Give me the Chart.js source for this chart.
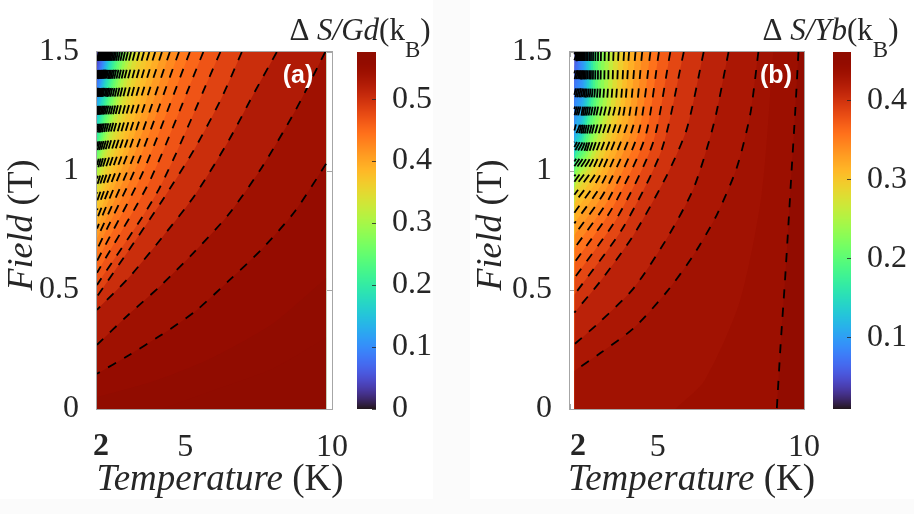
<!DOCTYPE html>
<html>
<head>
<meta charset="utf-8">
<script src="https://cdn.jsdelivr.net/npm/chart.js@4.4.1/dist/chart.umd.min.js"></script>
<style>
  html, body { margin: 0; padding: 0; background: #fbfbfb; }
  #wrap { position: relative; width: 914px; height: 514px; overflow: hidden; }
  .card { position: absolute; top: 0; height: 499px; background: #fff; }
  canvas { position: absolute; top: 0; }
</style>
</head>
<body>
<div id="wrap">
  <div class="card" style="left:0;width:433px"></div>
  <div class="card" style="left:470px;width:444px"></div>
  <canvas id="gd" width="457" height="514" style="left:0"></canvas>
  <canvas id="yb" width="457" height="514" style="left:457px"></canvas>
</div>
<script>
// axes ===============================================
const tempAxis = [2, 10];
const tempTicks = [2, 5, 10];
const fieldTicks = [0, 0.5, 1, 1.5];

// Gd panel (a) =======================================
const gdSpan = [2, 9.8];          // temperatures covered by the map
const gdRange = [0, 0.576];       // colour bar limits
const gdBarTicks = [0, 0.1, 0.2, 0.3, 0.4, 0.5];
// contour levels, outermost (bottom right) first
const gdLevels = [0.55, 0.535, 0.515, 0.49, 0.475, 0.46, 0.446, 0.431, 0.417, 0.40,
  0.386, 0.375, 0.363, 0.35, 0.335, 0.318, 0.30, 0.28, 0.262, 0.245,
  0.228, 0.213, 0.199, 0.186, 0.173, 0.16, 0.148, 0.137, 0.126, 0.116,
  0.106, 0.097, 0.088, 0.08, 0.072, 0.064, 0.056, 0.048, 0.04];
// contour lines as [T, B], read from the top / right edge down to the left edge
const gdContours = [
  [[9.8, 1.03], [8.74, 0.831], [7.6, 0.67], [6.47, 0.537], [5.34, 0.41], [4.2, 0.312], [3.07, 0.225], [2, 0.148]],
  [[9.77, 1.5], [8.74, 1.251], [7.6, 1.013], [6.47, 0.816], [5.34, 0.663], [4.2, 0.522], [3.07, 0.396], [2, 0.27]],
  [[8.12, 1.5], [7.38, 1.335], [6.47, 1.125], [5.34, 0.9], [4.2, 0.718], [3.07, 0.55], [2, 0.417]],
  [[6.93, 1.5], [6.24, 1.307], [5.34, 1.097], [4.2, 0.872], [3.07, 0.665], [2, 0.472]],
  [[6.2, 1.5], [4.1, 0.922], [2, 0.521]],
  [[5.62, 1.5], [3.81, 0.962], [2, 0.572]],
  [[5.16, 1.5], [3.58, 1.0], [2, 0.622]],
  [[4.79, 1.5], [3.395, 1.035], [2, 0.67]],
  [[4.48, 1.5], [3.24, 1.06], [2, 0.715]],
  [[4.21, 1.5], [3.105, 1.092], [2, 0.758]],
  [[3.98, 1.5], [2.99, 1.114], [2, 0.798]],
  [[3.78, 1.5], [2.89, 1.135], [2, 0.836]],
  [[3.6, 1.5], [2.8, 1.155], [2, 0.872]],
  [[3.44, 1.5], [2.72, 1.173], [2, 0.906]],
  [[3.29, 1.5], [2.645, 1.197], [2, 0.938]],
  [[3.16, 1.5], [2.58, 1.213], [2, 0.968]],
  [[3.05, 1.5], [2.525, 1.228], [2, 0.997]],
  [[2.95, 1.5], [2.475, 1.244], [2, 1.025]],
  [[2.86, 1.5], [2.43, 1.258], [2, 1.052]],
  [[2.78, 1.5], [2.39, 1.276], [2, 1.078]],
  [[2.71, 1.5], [2.355, 1.29], [2, 1.103]],
  [[2.65, 1.5], [2.325, 1.302], [2, 1.127]],
  [[2.6, 1.5], [2.3, 1.315], [2, 1.15]],
  [[2.55, 1.5], [2.275, 1.326], [2, 1.172]],
  [[2.505, 1.5], [2, 1.193]],
  [[2.465, 1.5], [2, 1.214]],
  [[2.43, 1.5], [2, 1.234]],
  [[2.395, 1.5], [2, 1.254]],
  [[2.36, 1.5], [2, 1.274]],
  [[2.33, 1.5], [2, 1.293]],
  [[2.3, 1.5], [2, 1.312]],
  [[2.27, 1.5], [2, 1.331]],
  [[2.24, 1.5], [2, 1.35]],
  [[2.21, 1.5], [2, 1.369]],
  [[2.18, 1.5], [2, 1.388]],
  [[2.15, 1.5], [2, 1.407]],
  [[2.12, 1.5], [2, 1.426]],
  [[2.09, 1.5], [2, 1.445]],
  [[2.06, 1.5], [2, 1.464]]
];
// undrawn iso-lines, read from the shading near the bottom
const gdShadeLevels = [0.563, 0.571];
const gdShadeContours = [
  [[9.8, 0.55], [8, 0.36], [6, 0.22], [4, 0.12], [2, 0.05]],
  [[9.8, 0.3], [8, 0.17], [6, 0.08], [4.2, 0]]
];

// Yb panel (b) =======================================
const ybSpan = [2.15, 10];
const ybRange = [0.009, 0.461];
const ybBarTicks = [0.1, 0.2, 0.3, 0.4];
const ybLevels = [0.44, 0.43, 0.42, 0.407, 0.392, 0.378, 0.364, 0.35, 0.336, 0.323,
  0.311, 0.3, 0.286, 0.271, 0.253, 0.236, 0.22, 0.205, 0.19, 0.172,
  0.154, 0.139, 0.128, 0.117, 0.106, 0.099, 0.094, 0.089, 0.084, 0.079,
  0.075, 0.071, 0.067, 0.06, 0.052, 0.043];
const ybContours = [
  [[9.81, 1.5], [9.7, 1.25], [9.58, 1.01], [9.47, 0.78], [9.35, 0.54], [9.2, 0.27], [9.07, 0]],
  [[8.44, 1.5], [8.16, 1.237], [7.7, 1.013], [7.02, 0.816], [6.23, 0.648], [5.32, 0.494], [4.18, 0.34], [3.04, 0.235], [2.15, 0.16]],
  [[7.42, 1.5], [6.91, 1.195], [6.23, 0.929], [5.32, 0.718], [4.18, 0.508], [3.04, 0.368], [2.15, 0.272]],
  [[6.57, 1.5], [6.0, 1.18], [5.32, 0.984], [4.18, 0.732], [3.04, 0.537], [2.15, 0.405]],
  [[5.89, 1.5], [5.142, 1.092], [3.833, 0.766], [2.15, 0.48]],
  [[5.43, 1.5], [4.84, 1.12], [3.626, 0.807], [2.15, 0.55]],
  [[5.04, 1.5], [4.578, 1.146], [3.45, 0.845], [2.15, 0.615]],
  [[4.75, 1.5], [4.36, 1.17], [3.32, 0.881], [2.15, 0.675]],
  [[4.47, 1.5], [4.168, 1.192], [3.194, 0.915], [2.15, 0.73]],
  [[4.24, 1.5], [3.989, 1.212], [3.09, 0.946], [2.15, 0.78]],
  [[4.02, 1.5], [3.814, 1.23], [2.992, 0.974], [2.15, 0.825]],
  [[3.85, 1.5], [3.68, 1.246], [2.915, 0.998], [2.15, 0.865]],
  [[3.66, 1.5], [3.524, 1.26], [2.83, 1.02], [2.15, 0.9]],
  [[3.49, 1.5], [3.383, 1.272], [2.753, 1.038], [2.15, 0.93]],
  [[3.33, 1.5], [3.247, 1.282], [2.681, 1.053], [2.15, 0.955]],
  [[3.19, 1.5], [3.122, 1.291], [2.618, 1.067], [2.15, 0.978]],
  [[3.06, 1.5], [3.005, 1.3], [2.56, 1.08], [2.15, 1.0]],
  [[2.96, 1.5], [2.92, 1.308], [2.515, 1.092], [2.15, 1.02]],
  [[2.87, 1.5], [2.834, 1.316], [2.474, 1.109], [2.15, 1.04]],
  [[2.79, 1.5], [2.758, 1.324], [2.438, 1.126], [2.15, 1.06]],
  [[2.72, 1.5], [2.692, 1.332], [2.407, 1.143], [2.15, 1.08]],
  [[2.66, 1.5], [2.635, 1.34], [2.38, 1.16], [2.15, 1.1]],
  [[2.6, 1.5], [2.578, 1.348], [2.353, 1.177], [2.15, 1.12]],
  [[2.55, 1.5], [2.53, 1.356], [2.33, 1.194], [2.15, 1.14]],
  [[2.5, 1.5], [2.465, 1.335], [2.15, 1.17]],
  [[2.46, 1.5], [2.429, 1.35], [2.15, 1.2]],
  [[2.42, 1.5], [2.393, 1.365], [2.15, 1.23]],
  [[2.385, 1.5], [2.362, 1.38], [2.15, 1.26]],
  [[2.35, 1.5], [2.33, 1.395], [2.15, 1.29]],
  [[2.32, 1.5], [2.303, 1.41], [2.15, 1.32]],
  [[2.29, 1.5], [2.276, 1.425], [2.15, 1.35]],
  [[2.265, 1.5], [2.254, 1.44], [2.15, 1.38]],
  [[2.24, 1.5], [2.231, 1.455], [2.15, 1.41]],
  [[2.22, 1.5], [2.213, 1.47], [2.15, 1.44]],
  [[2.2, 1.5], [2.195, 1.483], [2.15, 1.465]],
  [[2.18, 1.5], [2.15, 1.49]]
];
const ybShadeLevels = [0.435];
const ybShadeContours = [
  [[8.95, 1.5], [8.55, 0.9], [7.8, 0.45], [6.6, 0.12], [5.6, 0]]
];

// helpers ============================================
const SERIF = '"Liberation Serif", "Times New Roman", serif';
const INK = '#262626';

// turbo colormap (polynomial fit)
function turbo(t) {
  t = Math.min(1, Math.max(0, t));
  const r = 0.13572138 + t * (4.6153926 + t * (-42.66032258 + t * (132.13108234 + t * (-152.94239396 + t * 59.28637943))));
  const g = 0.09140261 + t * (2.19418839 + t * (4.84296658 + t * (-14.18503333 + t * (4.27729857 + t * 2.82956604))));
  const b = 0.1066733 + t * (12.64194608 + t * (-60.58204836 + t * (110.36276771 + t * (-89.90310912 + t * 27.34824973))));
  const c = v => Math.round(255 * Math.min(1, Math.max(0, v)));
  return `rgb(${c(r)},${c(g)},${c(b)})`;
}

// text made of runs in different fonts
function drawRich(ctx, parts, x, y, align) {
  let w = 0;
  parts.forEach(p => { ctx.font = p.font; w += ctx.measureText(p.text).width; });
  let cx = align === 'center' ? x - w / 2 : x;
  parts.forEach(p => {
    ctx.font = p.font;
    ctx.fillText(p.text, cx, y + (p.dy || 0));
    cx += ctx.measureText(p.text).width;
  });
}

function lineSet(pts, level, drawn) {
  return {
    data: pts.map(([x, y]) => ({ x, y })),
    level: level,
    borderColor: drawn ? '#000' : 'rgba(0,0,0,0)',
    borderWidth: drawn ? 1.8 : 0,
    borderDash: [9, 9.3],
    pointRadius: 0,
    tension: 0.25,
    fill: false
  };
}

// plugin block: filled bands, box, colour bar, titles
function panelArt(d) {
  const it = s => `italic ${s}px ${SERIF}`;
  const up = s => `${s}px ${SERIF}`;
  return {
    id: 'panelArt',
    beforeDatasetsDraw(chart) {
      const { ctx, chartArea: a, scales: { x, y } } = chart;
      const X = v => x.getPixelForValue(v);
      const Y = v => y.getPixelForValue(v);
      ctx.save();
      // box + inward ticks, under the map
      ctx.strokeStyle = '#a6a6a6';
      ctx.lineWidth = 1;
      ctx.strokeRect(a.left - 0.5, a.top - 0.5, a.right - a.left + 1, a.bottom - a.top + 1);
      ctx.beginPath();
      fieldTicks.forEach(v => {
        const p = Math.round(Y(v)) + 0.5;
        ctx.moveTo(a.left, p); ctx.lineTo(a.left + 5, p);
        ctx.moveTo(a.right, p); ctx.lineTo(a.right - 5, p);
      });
      tempTicks.forEach(v => {
        const p = Math.round(X(v)) + 0.5;
        ctx.moveTo(p, a.bottom); ctx.lineTo(p, a.bottom - 5);
        ctx.moveTo(p, a.top); ctx.lineTo(p, a.top + 5);
      });
      ctx.stroke();

      // filled bands between contour levels
      const sets = chart.data.datasets;
      const idx = sets.map((s, i) => i).sort((i, j) => sets[i].level - sets[j].level);
      const lv = idx.map(i => sets[i].level);
      const col = v => turbo((v - d.range[0]) / (d.range[1] - d.range[0]));
      const [t0, t1] = d.span;
      ctx.beginPath();
      ctx.rect(X(t0), a.top, X(t1) - X(t0), a.bottom - a.top);
      ctx.clip();
      ctx.fillStyle = col(lv[0] - (lv[1] - lv[0]) / 2);
      ctx.fillRect(X(t0), a.top, X(t1) - X(t0), a.bottom - a.top);
      idx.forEach((i, k) => {
        const line = chart.getDatasetMeta(i).dataset;
        const first = sets[i].data[0];
        const upper = k + 1 < lv.length ? lv[k + 1] : d.range[1];
        line.updateControlPoints(a, 'x');
        ctx.beginPath();
        line.path(ctx);
        ctx.lineTo(X(t0), Y(0));
        ctx.lineTo(X(t1), Y(0));
        if (first.y >= y.max) ctx.lineTo(X(t1), Y(y.max));
        ctx.closePath();
        ctx.fillStyle = col((lv[k] + upper) / 2);
        ctx.fill();
      });
      ctx.restore();
    },
    afterDraw(chart) {
      const { ctx } = chart;
      const cb = chart.scales.cb;
      ctx.save();
      // colour bar
      const [bx0, bx1] = d.barX;
      for (let py = Math.floor(cb.top); py < cb.bottom; py++) {
        const v = cb.getValueForPixel(py + 0.5);
        ctx.fillStyle = turbo((v - d.range[0]) / (d.range[1] - d.range[0]));
        ctx.fillRect(bx0, py, bx1 - bx0, 1);
      }
      ctx.strokeStyle = 'rgba(38,38,38,0.8)';
      ctx.lineWidth = 1;
      ctx.beginPath();
      d.barTicks.forEach(v => {
        const p = Math.round(cb.getPixelForValue(v)) + 0.5;
        ctx.moveTo(bx1, p); ctx.lineTo(bx1 - 4, p);
      });
      ctx.stroke();

      // titles
      ctx.fillStyle = INK;
      ctx.textAlign = 'left';
      ctx.textBaseline = 'alphabetic';
      drawRich(ctx, [{ text: 'Temperature', font: it(37) }, { text: ' (K)', font: up(37) }],
        d.xTitle[0], d.xTitle[1], 'center');
      ctx.save();
      ctx.translate(d.yTitle[0], d.yTitle[1]);
      ctx.rotate(-Math.PI / 2);
      drawRich(ctx, [{ text: 'Field', font: it(36) }, { text: ' (T)', font: up(36) }], 0, 0, 'center');
      ctx.restore();
      drawRich(ctx, [
        { text: '\u0394 ', font: up(31) },
        { text: 'S/' + d.ion, font: it(31) },
        { text: '(k', font: up(31) },
        { text: 'B', font: up(23), dy: 17 },
        { text: ')', font: up(31) }
      ], d.barTitle[0], d.barTitle[1], 'center');

      ctx.fillStyle = '#fff';
      ctx.textAlign = 'center';
      ctx.font = 'bold 25px "Liberation Sans", Arial, sans-serif';
      ctx.fillText(d.tag, d.tagPos[0], d.tagPos[1]);
      ctx.restore();
    }
  };
}

// vertical axes: fixed width, no extra label padding above/below
function fixVertical(width) {
  return s => { s.width = width; s.paddingTop = 0; s.paddingBottom = 0; };
}

function makePanel(canvasId, d) {
  const datasets = d.contours.map((pts, i) => lineSet(pts, d.levels[i], true))
    .concat(d.shadeContours.map((pts, i) => lineSet(pts, d.shadeLevels[i], false)));
  const tickFont = { family: SERIF, size: 32 };
  return new Chart(document.getElementById(canvasId), {
    type: 'line',
    data: { datasets },
    options: {
      responsive: false,
      animation: false,
      events: [],
      devicePixelRatio: 1,
      layout: { padding: { top: 52, left: 0, right: 0, bottom: 0 } },
      plugins: { legend: { display: false }, tooltip: { enabled: false } },
      scales: {
        x: {
          type: 'linear', min: tempAxis[0], max: tempAxis[1],
          afterBuildTicks: s => { s.ticks = tempTicks.map(v => ({ value: v })); },
          afterFit: s => { s.height = 105; },
          grid: { display: false }, border: { display: false },
          ticks: {
            autoSkip: false, maxRotation: 0, padding: 11, color: INK,
            font: c => ({ family: SERIF, size: 32, weight: c.tick && c.tick.value === 2 ? 'bold' : 'normal' }),
            callback: v => (v === 2 ? d.twoLabel : String(v))
          }
        },
        y: {
          type: 'linear', min: 0, max: 1.5,
          afterBuildTicks: s => { s.ticks = fieldTicks.map(v => ({ value: v })); },
          afterFit: fixVertical(d.leftW),
          grid: { display: false }, border: { display: false },
          ticks: { autoSkip: false, padding: 10, color: INK, font: tickFont, callback: v => String(v) }
        },
        cb: {
          type: 'linear', position: 'right', min: d.range[0], max: d.range[1],
          afterBuildTicks: s => { s.ticks = d.barTicks.map(v => ({ value: v })); },
          afterFit: fixVertical(d.rightW),
          grid: { display: false }, border: { display: false },
          ticks: { autoSkip: false, padding: d.barPad, color: INK, font: tickFont, callback: v => String(v) }
        }
      }
    },
    plugins: [panelArt(d)]
  });
}

// render init block
makePanel('gd', {
  levels: gdLevels, contours: gdContours, shadeLevels: gdShadeLevels, shadeContours: gdShadeContours,
  span: gdSpan, range: gdRange, barTicks: gdBarTicks, ion: 'Gd', tag: '(a)', twoLabel: ' 2',
  leftW: 97, rightW: 125, barX: [357, 376], barPad: 52,
  xTitle: [220, 490], yTitle: [32, 225], barTitle: [360, 40], tagPos: [298, 83]
});
makePanel('yb', {
  levels: ybLevels, contours: ybContours, shadeLevels: ybShadeLevels, shadeContours: ybShadeContours,
  span: ybSpan, range: ybRange, barTicks: ybBarTicks, ion: 'Yb', tag: '(b)', twoLabel: '\u20022',
  leftW: 113, rightW: 110, barX: [376, 394], barPad: 55,
  xTitle: [234.5, 490], yTitle: [43.5, 225], barTitle: [373.5, 40], tagPos: [319, 83]
});
</script>
</body>
</html>
